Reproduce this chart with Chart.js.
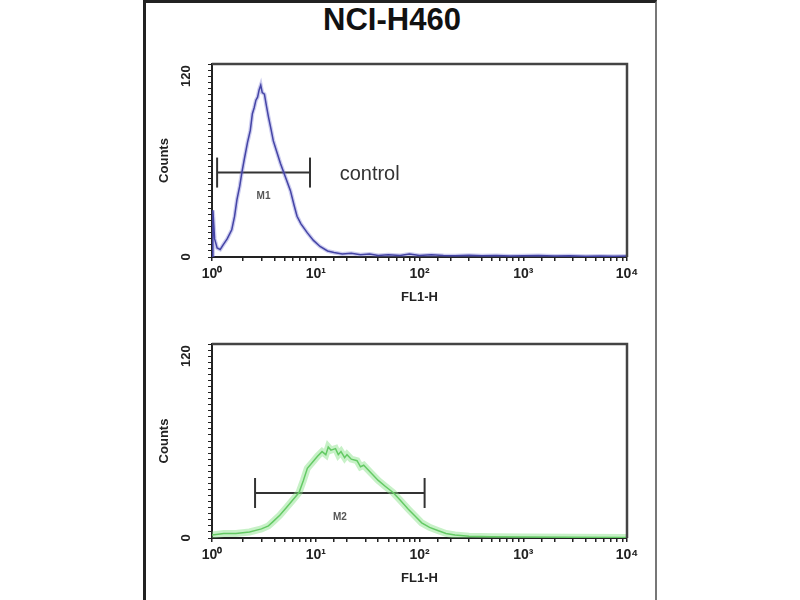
<!DOCTYPE html>
<html>
<head>
<meta charset="utf-8">
<script src="https://cdn.jsdelivr.net/npm/chart.js@4.4.1/dist/chart.umd.min.js"></script>
<style>
  body { margin:0; width:800px; height:600px; background:#fff; overflow:hidden; position:relative; font-family:"Liberation Sans", Arial, sans-serif; }
  #frame { position:absolute; left:143px; top:0; width:509px; height:610px; border-left:3px solid #222; border-right:2px solid #777; border-top:3px solid #222; }
  #title { position:absolute; left:392px; top:4px; transform:translateX(-50%); font-weight:bold; font-size:31px; line-height:31px; color:#111; white-space:nowrap; }
  canvas { position:absolute; left:0; }
  #top { top:0; }
  #bottom { top:280px; }
</style>
</head>
<body>
<div id="frame"></div>
<div id="title">NCI-H460</div>
<canvas id="top" width="800" height="320"></canvas>
<canvas id="bottom" width="800" height="320"></canvas>
<script>
// x ticks (log decades) and their labels
const decadeValues = [1, 10, 100, 1000, 10000];
const decadeLabels = ['10⁰', '10¹', '10²', '10³', '10⁴'];
const countTicks = [0, 120];

// control histogram (blue)
const controlFL1 = [1, 1.02, 1.06, 1.12, 1.2, 1.28, 1.4, 1.55, 1.65, 1.74, 1.85, 1.94, 2.05, 2.2, 2.34, 2.45, 2.55, 2.65, 2.75, 2.85,
  2.95, 3.05, 3.2, 3.35, 3.5, 3.7, 3.9, 4.2, 4.57, 5.1, 5.7, 6.2, 6.6, 7.2, 8.3, 9.5, 11, 13, 15, 18,
  22, 27, 33, 40, 50, 65, 80, 100, 130, 170, 220, 300, 400, 550, 750, 1000, 1400, 2000, 2800, 4000, 5500, 7500, 10000];
const controlCounts = [0, 31, 12, 6, 5, 8, 12, 18, 27, 38, 47, 56, 65, 76, 84, 95, 99, 104, 106, 111,
  114, 109, 108, 100, 93, 85, 77, 70, 62, 53, 44, 34, 27, 22, 16, 11, 7, 4, 3, 2,
  2.5, 1.5, 2, 1, 1.5, 1, 2, 1, 1.5, 1, 0.8, 1.2, 0.8, 1, 0.6, 0.8, 1, 0.6, 0.8, 0.5, 0.7, 0.5, 0.6];

// sample histogram (green)
const sampleFL1 = [1, 1.3, 1.7, 2.3, 3.0, 3.5, 3.9, 4.5, 5.2, 6.0, 6.9, 7.6, 8.3, 9.3, 10.4, 11.5, 12.5, 13.2, 14, 15.5,
  16.5, 17.5, 19, 20, 22, 25, 27, 29, 34, 40, 47, 55.6, 65, 78, 92, 105, 125, 150, 180, 220, 300, 500, 1000, 3000, 10000];
const sampleCounts = [2, 3, 3, 4, 6, 8, 11, 15, 20, 25, 30, 38, 46, 50, 54, 57, 55, 60, 58, 59,
  55, 57, 53, 55, 52, 51, 47, 48, 43, 38, 34, 30, 25, 19, 14, 10, 7, 5, 3, 2, 1.2, 0.8, 0.6, 0.5, 0.4];

// gate markers
const gateM1 = [1.12, 8.8];
const gateM1Level = 56;
const gateM2 = [2.6, 112];
const gateM2Level = 29.7;

const FONT = '"Liberation Sans", Arial, sans-serif';

function points(xs, ys) {
    return xs.map((x, i) => ({ x: x, y: ys[i] }));
}

const decoPlugin = {
    id: 'deco',
    afterDraw(chart, args, opts) {
        const ctx = chart.ctx;
        const area = chart.chartArea;
        const xs = chart.scales.x;
        const ys = chart.scales.y;
        ctx.save();
        // box top and right
        ctx.strokeStyle = '#444';
        ctx.lineWidth = 2.5;
        ctx.beginPath();
        ctx.moveTo(area.left, area.top);
        ctx.lineTo(area.right, area.top);
        ctx.lineTo(area.right, area.bottom);
        ctx.stroke();
        // rotated count labels
        ctx.fillStyle = '#222';
        ctx.font = 'bold 13px ' + FONT;
        ctx.textAlign = 'center';
        ctx.textBaseline = 'middle';
        countTicks.forEach(v => {
            ctx.save();
            ctx.translate(186, ys.getPixelForValue(v));
            ctx.rotate(-Math.PI / 2);
            ctx.fillText(String(v), 0, 0);
            ctx.restore();
        });
        // gate label
        const gx = xs.getPixelForValue(Math.sqrt(opts.gate[0] * opts.gate[1]));
        const gy = ys.getPixelForValue(opts.level);
        ctx.font = 'bold 10px ' + FONT;
        ctx.fillStyle = '#555';
        ctx.fillText(opts.gateName, gx, gy + 24);
        if (opts.note) {
            ctx.font = '20px ' + FONT;
            ctx.fillStyle = '#333';
            ctx.textAlign = 'left';
            ctx.fillText(opts.note, xs.getPixelForValue(17), gy + 2);
        }
        ctx.restore();
    }
};

function makeChart(id, xs, ys, core, glow, glowWidth, gate, level, gateName, note, xHeight, titlePad) {
    const ctx = document.getElementById(id).getContext('2d');
    return new Chart(ctx, {
        type: 'line',
        data: {
            datasets: [{
                data: points(xs, ys),
                borderColor: glow,
                borderWidth: glowWidth,
                pointRadius: 0,
                tension: 0
            }, {
                data: points(xs, ys),
                borderColor: core,
                borderWidth: 1.5,
                pointRadius: 0,
                tension: 0
            }, {
                data: [{ x: gate[0], y: level }, { x: gate[1], y: level }],
                borderColor: '#333',
                borderWidth: 2,
                pointStyle: 'line',
                rotation: 90,
                pointRadius: 15,
                pointBorderColor: '#333',
                pointBorderWidth: 2
            }]
        },
        options: {
            responsive: false,
            animation: false,
            devicePixelRatio: 1,
            layout: { padding: { left: 150, right: 173, top: 64, bottom: 0 } },
            plugins: {
                legend: { display: false },
                tooltip: { enabled: false },
                deco: { gate: gate, level: level, gateName: gateName, note: note }
            },
            scales: {
                x: {
                    type: 'logarithmic',
                    min: 1,
                    max: 10000,
                    border: { display: true, color: '#222', width: 2 },
                    grid: { drawOnChartArea: false, drawTicks: true, tickLength: 4, color: '#222', lineWidth: 1.5 },
                    ticks: {
                        autoSkip: false, maxRotation: 0, minRotation: 0, padding: 5, color: '#222',
                        font: { size: 14, weight: 'bold', family: FONT },
                        callback: function (value) {
                            const i = decadeValues.indexOf(value);
                            return i >= 0 ? decadeLabels[i] : '';
                        }
                    },
                    title: { display: true, text: 'FL1-H', color: '#222', font: { size: 13, weight: 'bold', family: FONT }, padding: { top: 0, bottom: titlePad } },
                    afterFit: function (s) { s.height = xHeight; }
                },
                y: {
                    min: 0,
                    max: 128,
                    border: { display: true, color: '#222', width: 2 },
                    grid: { drawOnChartArea: false, drawTicks: true, tickLength: 4, color: '#222' },
                    ticks: { stepSize: 4, autoSkip: false, padding: 0, callback: function () { return ''; } },
                    title: { display: true, text: 'Counts', color: '#222', font: { size: 13, weight: 'bold', family: FONT }, padding: { top: 7, bottom: 0 } },
                    afterFit: function (s) { s.width = 62; }
                }
            }
        },
        plugins: [decoPlugin]
    });
}

makeChart('top', controlFL1, controlCounts, '#2e2e8e', 'rgba(110,110,210,0.35)', 4,
    gateM1, gateM1Level, 'M1', 'control', 63, 15);
makeChart('bottom', sampleFL1, sampleCounts, '#4cb84c', 'rgba(130,225,130,0.45)', 7,
    gateM2, gateM2Level, 'M2', null, 62, 14);
</script>
</body>
</html>
